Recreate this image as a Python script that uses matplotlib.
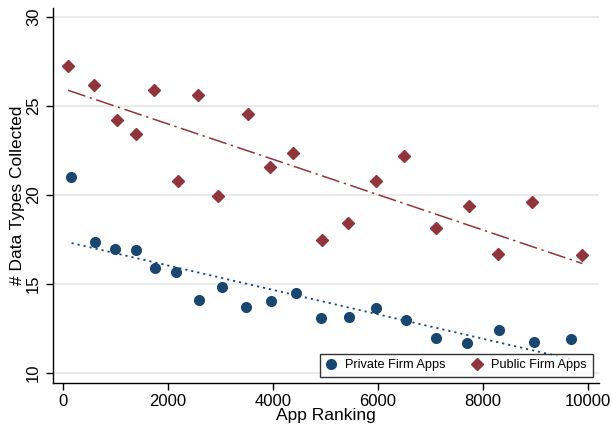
import numpy as np
import matplotlib
matplotlib.use("Agg")
import matplotlib.pyplot as plt

plt.rcParams['font.family'] = ['Liberation Sans', 'DejaVu Sans']

# Data
pub_x = [95, 585, 1023, 1385, 1739, 2184, 2578, 2958, 3530, 3943, 4387, 4930,
         5435, 5956, 6495, 7105, 7746, 8286, 8939, 9899]
pub_y = [27.23, 26.2, 24.2, 23.4, 25.92, 20.79, 25.62, 19.97, 24.52, 21.57, 22.33,
         17.47, 18.45, 20.77, 22.21, 18.13, 19.37, 16.71, 19.63, 16.63]
priv_x = [152, 604, 990, 1385, 1747, 2152, 2585, 3022, 3486, 3962, 4432, 4914,
          5442, 5962, 6533, 7105, 7701, 8305, 8977, 9689]
priv_y = [21.01, 17.34, 16.97, 16.91, 15.92, 15.67, 14.08, 14.83, 13.73, 14.07,
          14.52, 13.07, 13.13, 13.67, 12.98, 11.99, 11.69, 12.40, 11.76, 11.89]
# fitted-line endpoints
pub_fit_x = [95, 9899]
pub_fit_y = [25.88, 16.15]
priv_fit_x = [165, 9689]
priv_fit_y = [17.30, 10.77]
x_ticks = [0, 2000, 4000, 6000, 8000, 10000]
y_ticks = [10, 15, 20, 25, 30]

navy = '#1a476f'
maroon = '#90353b'

fig = plt.figure(figsize=(6.11, 4.32), dpi=100)
ax = fig.add_axes([0.0867, 0.1134, 0.8933, 0.8681])

for y in y_ticks:
    ax.axhline(y, color='#eaeaea', lw=1.5, zorder=0)

ax.plot(pub_fit_x, pub_fit_y, color=maroon, lw=1.1, ls=(0, (12, 3, 1.5, 3)), zorder=2)
ax.plot(priv_fit_x, priv_fit_y, color=navy, lw=1.3, ls=(0, (1.2, 2.2)), zorder=2)

ax.plot(priv_x, priv_y, 'o', color=navy, ms=7, mec=navy, label='Private Firm Apps', zorder=3)
ax.plot(pub_x, pub_y, 'D', color=maroon, ms=6.5, mec=maroon, label='Public Firm Apps', zorder=3)

ax.set_xlim(-190, 10210)
ax.set_ylim(9.44, 30.5)
ax.set_xticks(x_ticks)
ax.set_yticks(y_ticks)
ax.tick_params(axis='both', direction='out', length=5, width=1, labelsize=12, colors='black')
ax.tick_params(axis='x', pad=3)
for lab in ax.get_yticklabels():
    lab.set_rotation(90)
    lab.set_va('center')
ax.spines['top'].set_visible(False)
ax.spines['right'].set_visible(False)
ax.spines['left'].set_linewidth(1)
ax.spines['bottom'].set_linewidth(1)
ax.set_xlabel('App Ranking', fontsize=12.5, labelpad=-1)
ax.set_ylabel('# Data Types Collected', fontsize=12.5, labelpad=1)

leg = ax.legend(loc='lower right', bbox_to_anchor=(0.989, 0.016), borderaxespad=0,
                ncol=2, fontsize=9.2, frameon=True, fancybox=False, edgecolor='black',
                handletextpad=0.7, columnspacing=2.1, handlelength=0.8, borderpad=0.45)
leg.get_frame().set_linewidth(1)
leg.set_zorder(5)

fig.savefig('out.png', dpi=100)
